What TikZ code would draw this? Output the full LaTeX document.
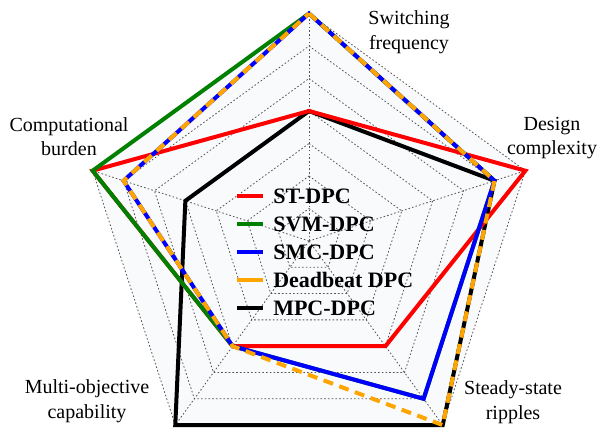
\documentclass[tikz,border=0pt]{standalone}
\usepackage{fontspec}
\setmainfont{Liberation Serif}
\definecolor{bgfill}{RGB}{248,250,252}
\definecolor{gridgray}{RGB}{85,85,85}
\definecolor{stred}{RGB}{255,0,0}
\definecolor{svmgreen}{RGB}{0,128,0}
\definecolor{smcblue}{RGB}{0,0,255}
\definecolor{dborange}{RGB}{255,165,0}
\begin{document}
\begin{tikzpicture}[x=0.75pt,y=0.75pt,
  gridline/.style={draw=gridgray, line width=0.6pt, dash pattern=on 1.2pt off 1.6pt},
  series/.style={line width=3pt, line join=miter},
  dbdash/.style={dash pattern=on 7.5pt off 5pt},
  lab/.style={font=\fontsize{15}{18.5}\selectfont, align=center, inner sep=0pt},
  legtext/.style={font=\fontsize{16.5}{19}\selectfont\bfseries, anchor=base west, inner sep=0pt},
  legline/.style={line width=3pt}]
\useasboundingbox (-309,-189) rectangle (289,241);
% background
\fill[bgfill] (90:227.5) -- (18:227.5) -- (-54:227.5) -- (-126:227.5) -- (162:227.5) -- cycle;
% grid
\foreach \l in {1,...,7}{
  \pgfmathsetmacro\rr{\l*32.5}
  \draw[gridline] (90:\rr) -- (18:\rr) -- (-54:\rr) -- (-126:\rr) -- (162:\rr) -- cycle;
}
\foreach \a in {90,18,-54,-126,162}{
  \draw[gridline] (0,0) -- (\a:227.5);
}
% series
\draw[series, black] (90:130) -- (18:195) -- (-54:227.5) -- (-126:227.5) -- (162:130) -- cycle;
\draw[series, stred] (90:130) -- (18:227.5) -- (-54:130) -- (-126:130) -- (162:227.5) -- cycle;
\draw[series, svmgreen] (90:227.5) -- (18:195) -- (-54:195) -- (-126:130) -- (162:227.5) -- cycle;
\draw[series, smcblue] (90:227.5) -- (18:195) -- (-54:195) -- (-126:130) -- (162:195) -- cycle;
\draw[series, dborange, dbdash] (90:227.5) -- (18:195) -- (-54:227.5) -- (-126:130) -- (162:195) -- cycle;
% axis labels
\node[lab] (sf) at (100,209) {Switching\\frequency};
\node[lab] (dc) at (243,103) {Design\\complexity};
\node[lab] (ss) at (204,-161) {Steady-state\\ripples};
\node[lab] (mo) at (-222,-160) {Multi-objective\\capability};
\node[lab] (cb) at (-240,104.5) {Computational\\burden};
% legend
\draw[legline, stred] (-72,45) -- (-46,45);
\node[legtext] (l1) at (-36,38) {ST-DPC};
\draw[legline, svmgreen] (-72,17) -- (-46,17);
\node[legtext] (l2) at (-36,10) {SVM-DPC};
\draw[legline, smcblue] (-72,-11) -- (-46,-11);
\node[legtext] (l3) at (-36,-18) {SMC-DPC};
\draw[legline, dborange] (-72,-39) -- (-46,-39);
\node[legtext] (l4) at (-36,-46) {Deadbeat DPC};
\draw[legline, black] (-72,-67) -- (-46,-67);
\node[legtext] (l5) at (-36,-74) {MPC-DPC};
\end{tikzpicture}
\end{document}
